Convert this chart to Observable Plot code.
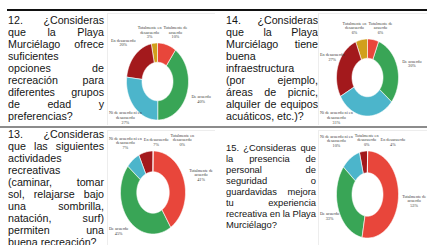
<!DOCTYPE html>
<html><head><meta charset="utf-8">
<script src="https://cdn.jsdelivr.net/npm/d3@7"></script>
<script src="https://cdn.jsdelivr.net/npm/@observablehq/plot@0.6"></script>
<style>
html,body{margin:0;padding:0;background:#fff;}
#fig{position:relative;width:427px;height:245px;overflow:hidden;background:#fff;}
.q{position:absolute;font-family:"Liberation Sans",Arial,sans-serif;color:#141414;transform-origin:0 0;}
.q div{text-align:justify;text-align-last:justify;white-space:nowrap;}
.q div.last{text-align-last:left;}
.rule{position:absolute;}
.chart{position:absolute;}
</style></head>
<body>
<div id="fig"></div>
<script>
const categories = ["Totalmente de acuerdo","De acuerdo","Ni de acuerdo ni en desacuerdo","En desacuerdo","Totalmente en desacuerdo"];
const labelLines = [["Totalmente de","acuerdo"],["De acuerdo"],["Ni de acuerdo ni en","desacuerdo"],["En desacuerdo"],["Totalmente en","desacuerdo"]];
const colors = ["#e8463b","#39a556","#4cb5cb","#a3191c","#d1a01c"];

const q12Values = [10,40,27,20,3];
const q14Values = [6,30,31,27,6];
const q13Values = [41,45,7,7,0];
const q15Values = [53,33,10,4,0];

const q12Text = ["12.  ¿Consideras","que la Playa","Murciélago ofrece","suficientes","opciones de","recreación para","diferentes grupos","de edad y","preferencias?"];
const q14Text = ["14.  ¿Consideras","que la Playa","Murciélago tiene","buena","infraestructura","(por ejemplo,","áreas de picnic,","alquiler de equipos","acuáticos, etc.)?"];
const q13Text = ["13.  ¿Consideras","que las siguientes","actividades","recreativas","(caminar, tomar","sol, relajarse bajo","una sombrilla,","natación, surf)","permiten una","buena recreación?"];
const q15Text = ["15. ¿Consideras que","la presencia de","personal de","seguridad o","guardavidas mejora","tu experiencia","recreativa en la Playa","Murciélago?"];

const fig = document.getElementById("fig");

function rule(left, top, width, height, color){
  const d = document.createElement("div");
  d.className = "rule";
  Object.assign(d.style,{left:left+"px",top:top+"px",width:width+"px",height:height+"px",background:color});
  fig.appendChild(d);
}
function question(lines, left, top, width, lh, fs, squeeze){
  const box = document.createElement("div");
  box.className = "q";
  Object.assign(box.style,{left:left+"px",top:top+"px",width:(width/squeeze)+"px",fontSize:fs+"px",transform:`scaleX(${squeeze})`});
  lines.forEach((t,i)=>{
    const d = document.createElement("div");
    d.textContent = t;
    d.style.height = lh+"px"; d.style.lineHeight = lh+"px";
    if (i === lines.length-1) d.className = "last";
    box.appendChild(d);
  });
  fig.appendChild(box);
}

const inner = 0.5;
const labelFont = 4.2, labelLH = 1.1;
const ctx = document.createElement("canvas").getContext("2d");
ctx.font = labelFont + "px 'Liberation Serif'";

function donut(values, g){
  const arcs = d3.pie().sort(null).value(d=>d)(values);
  const poly = [];
  arcs.forEach((p,i)=>{
    const n = Math.max(2, Math.ceil((p.endAngle-p.startAngle)/0.03));
    for (let k=0;k<=n;k++){const a=p.startAngle+(p.endAngle-p.startAngle)*k/n; poly.push({key:categories[i],x:Math.sin(a),y:Math.cos(a)});}
    for (let k=n;k>=0;k--){const a=p.startAngle+(p.endAngle-p.startAngle)*k/n; poly.push({key:categories[i],x:inner*Math.sin(a),y:inner*Math.cos(a)});}
  });
  const gap = 4, ex = g.rx+gap, ey = g.ry+gap;
  const hits = (px,py,w,h)=>{
    for (let a=0;a<=6;a++) for (let b=0;b<=6;b++){
      if (a>0&&a<6&&b>0&&b<6) continue;
      const x = px - w/2 + w*a/6, y = py - h/2 + h*b/6;
      if ((x/ex)**2 + (y/ey)**2 < 1) return true;
    }
    return false;
  };
  const L = arcs.map((p,i)=>{
    const lines = [...labelLines[i], values[i]+"%"];
    const w = Math.max(...lines.map(l=>ctx.measureText(l).width)) + 1;
    const h = lines.length*labelFont*labelLH;
    const m = (p.startAngle+p.endAngle)/2, s = Math.sin(m), c = Math.cos(m);
    let t = 0.8;
    while (hits(t*g.rx*s, -t*g.ry*c, w, h) && t < 4) t += 0.01;
    return {i, lines, w, h, s, x: t*g.rx*s, y: -t*g.ry*c};
  });
  const minX = g.left-g.cx, maxX = g.left+g.width-g.cx, minY = g.top-g.cy, maxY = g.top+g.height-g.cy;
  for (const l of L){
    l.x = Math.max(minX + l.w/2 + 1, Math.min(maxX - l.w/2 - 1, l.x));
    const y0 = l.y;
    l.y = Math.max(minY + l.h/2 + 2, Math.min(maxY - l.h/2 - 1, l.y));
    if (l.y !== y0){
      const dir = l.s < 0 ? -1 : (l.s > 0 ? 1 : -1);
      while (hits(l.x, l.y, l.w, l.h) && Math.abs(l.x) < 80) l.x += dir*0.5;
    }
  }
  for (let it=0; it<40; it++){
    let moved = false;
    for (let a=0;a<L.length;a++) for (let b=a+1;b<L.length;b++){
      const A=L[a], B=L[b];
      const needX = (A.w+B.w)/2 + 1, needY = (A.h+B.h)/2;
      const dx = B.x - A.x, dy = B.y - A.y;
      if (Math.abs(dx) < needX && Math.abs(dy) < needY){
        const d = (needX - Math.abs(dx))/2 + 0.1, sg = dx >= 0 ? 1 : -1;
        A.x -= sg*d; B.x += sg*d; moved = true;
      }
    }
    for (const l of L){ l.x = Math.max(minX + l.w/2 + 1, Math.min(maxX - l.w/2 - 1, l.x)); }
    if (!moved) break;
  }
  const labels = L.map(l=>({x: l.x/g.rx, y: -l.y/g.ry, text: l.lines.join("\n")}));
  const plot = Plot.plot({
    width: g.width, height: g.height, margin: 0,
    x: {domain:[-1,1], range:[g.cx-g.rx-g.left, g.cx+g.rx-g.left], axis:null},
    y: {domain:[-1,1], range:[g.cy+g.ry-g.top, g.cy-g.ry-g.top], axis:null},
    color: {domain: categories, range: colors},
    marks: [
      Plot.frame({stroke:"#ededed"}),
      Plot.line(poly, {x:"x", y:"y", z:"key", fill:"key", stroke:"#fff", strokeWidth:0.6, curve:"linear-closed"}),
      Plot.text(labels, {x:"x", y:"y", text:"text", fontSize:labelFont, fontFamily:"Liberation Serif", fill:"#3c3c3c", lineHeight:labelLH})
    ]
  });
  const wrap = document.createElement("div");
  wrap.className = "chart";
  Object.assign(wrap.style,{left:g.left+"px",top:g.top+"px"});
  wrap.appendChild(plot);
  fig.appendChild(wrap);
}

rule(7, 9, 420, 2, "#111");
rule(0, 126, 427, 2, "#8c8c8c");

question(q12Text, 8, 14, 96, 12, 10.7, 1);
question(q14Text, 226, 14, 92, 12, 10.7, 1);
question(q13Text, 8, 128, 96, 12, 10.7, 1);
question(q15Text, 226, 142, 90, 11, 9.8, 0.955);

donut(q12Values, {left:107, top:13, width:108, height:112, cx:157, cy:81, rx:31, ry:38.5});
donut(q14Values, {left:318, top:13, width:109, height:112, cx:367, cy:77, rx:31, ry:38.5});
donut(q13Values, {left:107, top:130, width:108, height:115, cx:152.5, cy:192, rx:32.5, ry:41.5});
donut(q15Values, {left:318, top:130, width:109, height:115, cx:367, cy:194, rx:31, ry:43.5});
</script>
</body></html>
